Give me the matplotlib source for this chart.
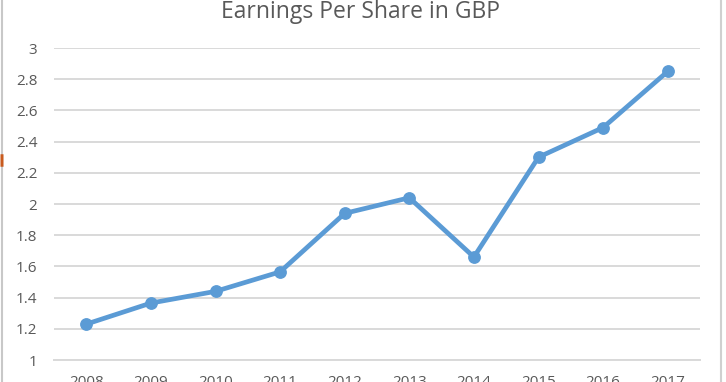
# Earnings per share line chart (Excel style)

import matplotlib
matplotlib.use('Agg')
import matplotlib.pyplot as plt
from matplotlib.lines import Line2D

years = ['2008', '2009', '2010', '2011', '2012', '2013', '2014', '2015', '2016', '2017']
eps = [1.23, 1.365, 1.44, 1.565, 1.94, 2.04, 1.66, 2.30, 2.49, 2.85]
yticks = [1, 1.2, 1.4, 1.6, 1.8, 2, 2.2, 2.4, 2.6, 2.8, 3]

text_col = '#595959'
grid_col = '#D9D9D9'
line_col = '#5B9BD5'

plt.rcParams['font.family'] = ['Open Sans', 'DejaVu Sans']

fig = plt.figure(figsize=(7.26, 3.82), dpi=100)
ax = fig.add_axes([54/726, 1 - 360/382, 646/726, 312/382])

x = list(range(len(years)))
ax.plot(x, eps, color=line_col, linewidth=3.4, marker='o', markersize=8.2,
        solid_capstyle='round', solid_joinstyle='round')

ax.set_xlim(-0.5, len(years) - 0.5)
ax.set_ylim(1, 3)
ax.set_yticks(yticks)
ax.set_yticklabels([('%g' % v) for v in yticks])
ax.set_xticks(x)
ax.set_xticklabels(years)

ax.grid(axis='y', color=grid_col, linewidth=1.4)
ax.set_axisbelow(True)
for s in ['top', 'right', 'left']:
    ax.spines[s].set_visible(False)
ax.spines['bottom'].set_color(grid_col)
ax.spines['bottom'].set_linewidth(1.4)
ax.tick_params(axis='both', length=0, labelsize=11, colors=text_col)
ax.tick_params(axis='y', pad=12)
ax.tick_params(axis='x', pad=11)

fig.text(0.497, 1 - 18/382, 'Earnings Per Share in GBP', ha='center', va='baseline',
         fontsize=16.5, color=text_col)

# sheet borders left and right of the chart
fig.add_artist(Line2D([1.5/726, 1.5/726], [0, 1], color='#C8C8C8', linewidth=1.5))
fig.add_artist(Line2D([721/726, 721/726], [0, 1], color='#D0D0D0', linewidth=1.5))
fig.add_artist(Line2D([0, 3/726], [1 - 160/382, 1 - 160/382], color='#C85A1E',
                      linewidth=9, solid_capstyle='butt'))

fig.savefig('out.png', dpi=100)
